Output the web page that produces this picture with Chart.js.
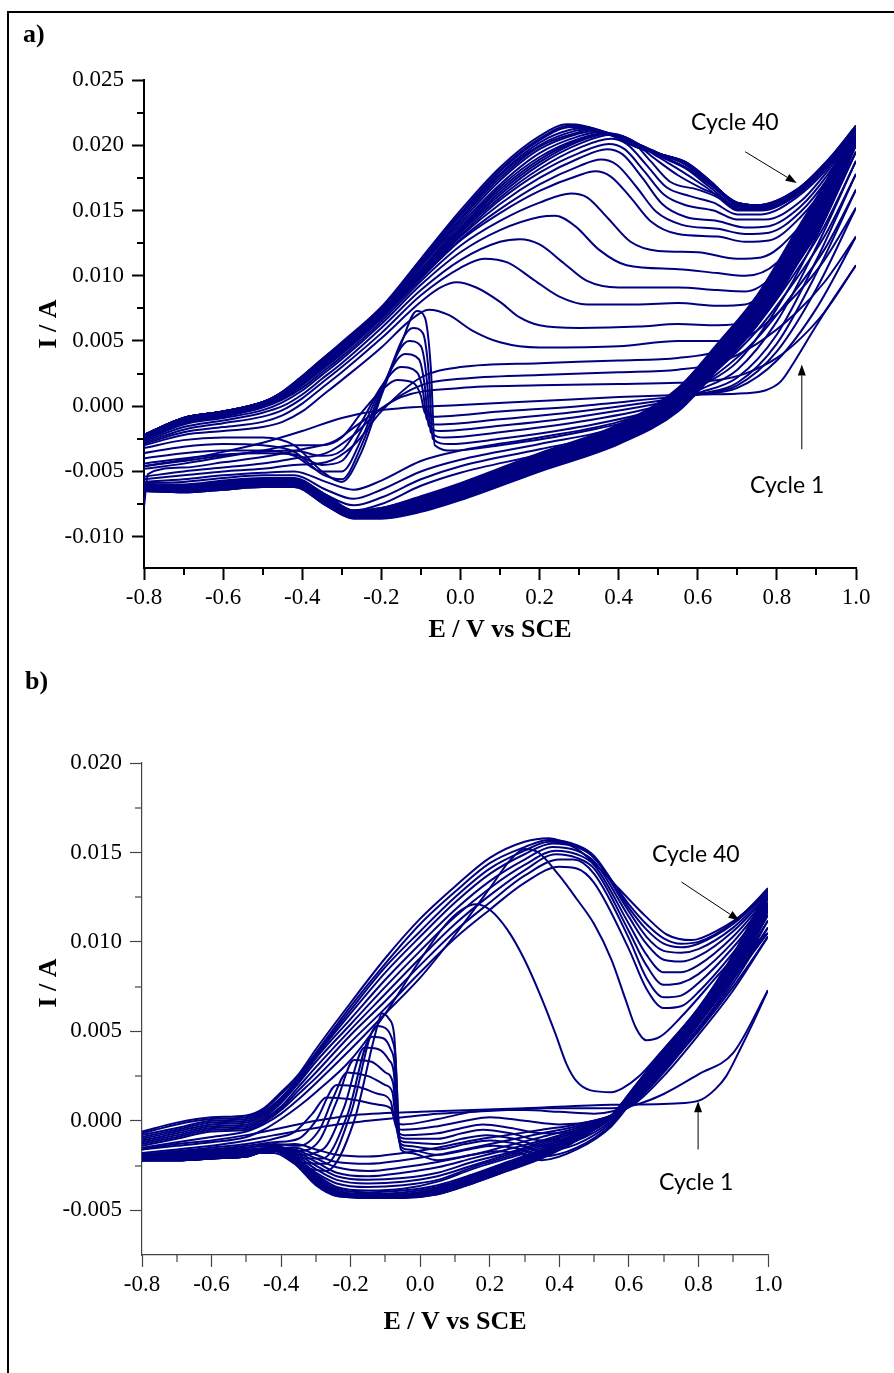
<!DOCTYPE html>
<html><head><meta charset="utf-8">
<script src="https://cdn.jsdelivr.net/npm/chart.js@4/dist/chart.umd.min.js"></script>
<style>
html,body{margin:0;padding:0;background:#fff;}
#page{position:relative;width:894px;height:1373px;overflow:hidden;background:#fff;}
canvas{position:absolute;left:0;}
#frame{position:absolute;left:7px;top:11px;width:920px;height:1400px;border-left:2px solid #000;border-top:2px solid #000;}
.lbl{position:absolute;font-family:'Liberation Serif','Times New Roman',serif;font-weight:bold;font-size:26px;line-height:26px;color:#000;white-space:nowrap;}
.note{position:absolute;font-family:Lato,'Open Sans',sans-serif;font-size:23px;line-height:23px;color:#000;white-space:nowrap;}
</style></head>
<body><div id="page">
<div id="frame"></div>
<canvas id="ca" width="894" height="660" style="top:0;width:894px;height:660px"></canvas>
<canvas id="cb" width="894" height="713" style="top:660px;width:894px;height:713px"></canvas>
<div class="lbl" style="left:23px;top:21px">a)</div>
<div class="lbl" style="left:25px;top:668px">b)</div>
<div class="note" style="left:691px;top:110px">Cycle 40</div>
<div class="note" style="left:750px;top:473px">Cycle 1</div>
<div class="note" style="left:652px;top:842px">Cycle 40</div>
<div class="note" style="left:659px;top:1170px">Cycle 1</div>
</div>
<script>
// ===================== PANEL a : data (E / V vs SCE, I / A) =====================
const aXTicksMinor = [-0.7,-0.5,-0.3,-0.1,0.1,0.3,0.5,0.7,0.9];
const aYTicksMinor = [-0.0075,-0.0025,0.0025,0.0075,0.0125,0.0175,0.0225];

// forward scans (E increasing)
const a_c01_fwd = [[-0.8,-0.0046],[-0.7,-0.0041],[-0.6,-0.0035],[-0.5,-0.0028],[-0.4,-0.0019],[-0.3,-0.0009],[-0.2,-0.0003],[0.0,0.0001],[0.2,0.0004],[0.4,0.0007],[0.6,0.0009],[0.72,0.0010],[0.77,0.0012],[0.81,0.0019],[0.85,0.0037],[0.89,0.0057],[0.94,0.0081],[1.0,0.0108]];
const a_c02_fwd = [[-0.8,-0.0048],[-0.7,-0.0044],[-0.6,-0.0039],[-0.5,-0.0034],[-0.42,-0.0030],[-0.35,-0.0030],[-0.3,-0.0024],[-0.25,-0.0005],[-0.2,0.0012],[-0.16,0.0020],[-0.12,0.0018],[-0.10,0.0008],[-0.09,-0.0005],[-0.07,-0.0008],[0.1,-0.0004],[0.3,0.0000],[0.5,0.0006],[0.6,0.0009],[0.7,0.0014],[0.8,0.0035],[0.9,0.0075],[1.0,0.0130]];
const a_c03_fwd = [[-0.8,-0.0046],[-0.7,-0.0042],[-0.6,-0.0038],[-0.5,-0.0035],[-0.42,-0.0034],[-0.35,-0.0038],[-0.3,-0.0034],[-0.25,-0.0012],[-0.2,0.0015],[-0.15,0.0030],[-0.11,0.0026],[-0.095,0.0012],[-0.085,-0.0010],[-0.06,-0.0014],[0.1,-0.0010],[0.3,-0.0004],[0.5,0.0004],[0.6,0.0009],[0.7,0.0016],[0.8,0.0042],[0.9,0.0090],[1.0,0.0152]];
const a_c04_fwd = [[-0.8,-0.0044],[-0.7,-0.0040],[-0.6,-0.0037],[-0.5,-0.0036],[-0.42,-0.0037],[-0.35,-0.0045],[-0.3,-0.0042],[-0.25,-0.0018],[-0.2,0.0014],[-0.14,0.0040],[-0.105,0.0036],[-0.09,0.0015],[-0.08,-0.0015],[-0.05,-0.0019],[0.1,-0.0015],[0.3,-0.0008],[0.5,0.0002],[0.6,0.0009],[0.7,0.0018],[0.8,0.0048],[0.9,0.0102],[1.0,0.0166]];
const a_c05_fwd = [[-0.8,-0.0040],[-0.7,-0.0036],[-0.6,-0.0034],[-0.5,-0.0034],[-0.42,-0.0038],[-0.35,-0.0050],[-0.3,-0.0050],[-0.25,-0.0025],[-0.2,0.0012],[-0.13,0.0050],[-0.1,0.0046],[-0.085,0.0020],[-0.075,-0.0020],[-0.04,-0.0024],[0.1,-0.0020],[0.3,-0.0012],[0.5,0.0000],[0.6,0.0010],[0.7,0.0022],[0.8,0.0055],[0.9,0.0112],[1.0,0.0178]];
const a_c06_fwd = [[-0.8,-0.0036],[-0.7,-0.0031],[-0.6,-0.0029],[-0.5,-0.0030],[-0.42,-0.0035],[-0.35,-0.0052],[-0.3,-0.0056],[-0.25,-0.0030],[-0.2,0.0010],[-0.12,0.0060],[-0.095,0.0056],[-0.08,0.0025],[-0.07,-0.0025],[-0.03,-0.0029],[0.1,-0.0025],[0.3,-0.0016],[0.5,-0.0002],[0.6,0.0012],[0.7,0.0028],[0.8,0.0065],[0.9,0.0122],[1.0,0.0188]];
const a_c07_fwd = [[-0.8,-0.0032],[-0.7,-0.0026],[-0.6,-0.0024],[-0.5,-0.0024],[-0.42,-0.0030],[-0.35,-0.0050],[-0.3,-0.0058],[-0.25,-0.0035],[-0.2,0.0008],[-0.15,0.0048],[-0.11,0.0073],[-0.09,0.0068],[-0.075,0.0030],[-0.065,-0.0030],[-0.02,-0.0034],[0.1,-0.0030],[0.3,-0.0020],[0.5,-0.0004],[0.6,0.0014],[0.7,0.0034],[0.8,0.0075],[0.9,0.0130],[1.0,0.0195]];
const a_c08_fwd = [[-0.8,-0.0030],[-0.7,-0.0022],[-0.6,-0.0019],[-0.5,-0.0016],[-0.45,-0.0012],[-0.4,-0.0004],[-0.35,0.0008],[-0.3,0.0020],[-0.2,0.0045],[-0.13,0.0065],[-0.08,0.0074],[-0.03,0.0070],[0.03,0.0058],[0.1,0.0049],[0.2,0.0045],[0.4,0.0046],[0.55,0.0050],[0.65,0.0050],[0.72,0.0055],[0.8,0.0083],[0.9,0.0138],[1.0,0.0200]];
const a_c09_fwd = [[-0.8,-0.0029],[-0.7,-0.0020],[-0.6,-0.0016],[-0.5,-0.0012],[-0.45,-0.0007],[-0.4,0.0002],[-0.35,0.0014],[-0.3,0.0026],[-0.2,0.0052],[-0.1,0.0080],[-0.05,0.0091],[-0.01,0.0095],[0.04,0.0091],[0.1,0.0080],[0.15,0.0068],[0.2,0.0062],[0.3,0.0060],[0.45,0.0061],[0.55,0.0063],[0.65,0.0062],[0.72,0.0065],[0.8,0.0088],[0.9,0.0140],[1.0,0.0203]];
const a_c10_fwd = [[-0.8,-0.0028],[-0.7,-0.0018],[-0.6,-0.0013],[-0.5,-0.0008],[-0.45,-0.0003],[-0.4,0.0006],[-0.35,0.0018],[-0.3,0.0030],[-0.2,0.0056],[-0.1,0.0085],[0.0,0.0106],[0.06,0.0113],[0.12,0.0110],[0.18,0.0098],[0.25,0.0084],[0.32,0.0078],[0.45,0.0078],[0.55,0.0079],[0.65,0.0077],[0.72,0.0078],[0.8,0.0097],[0.9,0.0146],[1.0,0.0205]];
const a_c11_fwd = [[-0.8,-0.0027],[-0.7,-0.0016],[-0.6,-0.0011],[-0.5,-0.0005],[-0.45,0.0000],[-0.4,0.0009],[-0.35,0.0021],[-0.3,0.0033],[-0.2,0.0060],[-0.1,0.0089],[0.0,0.0112],[0.1,0.0126],[0.15,0.0128],[0.2,0.0124],[0.26,0.0110],[0.32,0.0096],[0.4,0.0091],[0.55,0.0091],[0.65,0.0089],[0.72,0.0088],[0.8,0.0103],[0.9,0.0150],[1.0,0.0207]];
const a_c12_fwd = [[-0.8,-0.0026],[-0.7,-0.0014],[-0.6,-0.0009],[-0.5,-0.0003],[-0.45,0.0003],[-0.4,0.0012],[-0.35,0.0024],[-0.3,0.0036],[-0.2,0.0063],[-0.1,0.0093],[0.0,0.0118],[0.1,0.0135],[0.2,0.0145],[0.24,0.0146],[0.29,0.0138],[0.35,0.0120],[0.42,0.0108],[0.55,0.0105],[0.65,0.0102],[0.72,0.0100],[0.8,0.0110],[0.9,0.0154],[1.0,0.0208]];
const a_c13_fwd = [[-0.8,-0.0025],[-0.7,-0.0013],[-0.6,-0.0008],[-0.5,-0.0001],[-0.45,0.0005],[-0.4,0.0014],[-0.35,0.0026],[-0.3,0.0038],[-0.2,0.0065],[-0.1,0.0096],[0.0,0.0123],[0.1,0.0142],[0.2,0.0156],[0.28,0.0163],[0.32,0.0160],[0.37,0.0145],[0.43,0.0126],[0.5,0.0119],[0.6,0.0118],[0.7,0.0113],[0.76,0.0114],[0.85,0.0135],[0.92,0.0165],[1.0,0.0209]];
const a_c14_fwd = [[-0.8,-0.0024],[-0.7,-0.0012],[-0.6,-0.0007],[-0.5,0.0000],[-0.45,0.0006],[-0.4,0.0016],[-0.35,0.0028],[-0.3,0.0040],[-0.2,0.0067],[-0.1,0.0098],[0.0,0.0127],[0.1,0.0148],[0.2,0.0165],[0.3,0.0177],[0.34,0.0180],[0.38,0.0176],[0.43,0.0160],[0.48,0.0142],[0.55,0.0132],[0.65,0.0130],[0.72,0.0126],[0.78,0.0127],[0.86,0.0145],[0.93,0.0172],[1.0,0.0210]];
const a_c15_fwd = [[-0.8,-0.0024],[-0.7,-0.0012],[-0.6,-0.0007],[-0.5,0.0000],[-0.45,0.0006],[-0.4,0.0017],[-0.35,0.0029],[-0.3,0.0041],[-0.2,0.0068],[-0.1,0.0099],[0.0,0.0128],[0.1,0.0151],[0.2,0.0170],[0.3,0.0184],[0.355,0.0189],[0.395,0.0185],[0.445,0.0168],[0.495,0.0149],[0.56,0.0139],[0.65,0.0136],[0.72,0.0132],[0.78,0.0133],[0.86,0.0149],[0.93,0.0175],[1.0,0.0210]];
const a_c16_fwd = [[-0.8,-0.0023],[-0.7,-0.0011],[-0.6,-0.0006],[-0.5,0.0001],[-0.45,0.0007],[-0.4,0.0018],[-0.35,0.0030],[-0.3,0.0042],[-0.2,0.0069],[-0.1,0.0100],[0.0,0.0130],[0.1,0.0155],[0.2,0.0175],[0.3,0.0190],[0.37,0.0197],[0.41,0.0193],[0.46,0.0175],[0.51,0.0155],[0.57,0.0145],[0.65,0.0142],[0.72,0.0137],[0.78,0.0138],[0.86,0.0153],[0.93,0.0178],[1.0,0.0211]];
const a_c17_fwd = [[-0.8,-0.0023],[-0.7,-0.0011],[-0.6,-0.0006],[-0.5,0.0001],[-0.45,0.0007],[-0.4,0.0018],[-0.35,0.0030],[-0.3,0.0042],[-0.2,0.0069],[-0.1,0.0101],[0.0,0.0131],[0.1,0.0158],[0.2,0.0179],[0.3,0.0194],[0.375,0.0201],[0.415,0.0197],[0.465,0.0180],[0.515,0.0162],[0.57,0.0154],[0.64,0.0150],[0.7,0.0143],[0.77,0.0143],[0.86,0.0157],[0.93,0.0181],[1.0,0.0211]];
const a_c18_fwd = [[-0.8,-0.0023],[-0.7,-0.0010],[-0.6,-0.0005],[-0.5,0.0001],[-0.45,0.0008],[-0.4,0.0019],[-0.35,0.0031],[-0.3,0.0043],[-0.2,0.0070],[-0.1,0.0101],[0.0,0.0133],[0.1,0.0160],[0.2,0.0182],[0.3,0.0198],[0.38,0.0205],[0.42,0.0201],[0.47,0.0185],[0.52,0.0168],[0.58,0.0161],[0.64,0.0156],[0.7,0.0147],[0.76,0.0147],[0.85,0.0160],[0.93,0.0183],[1.0,0.0212]];
const a_c19_fwd = [[-0.8,-0.0023],[-0.7,-0.0010],[-0.6,-0.0005],[-0.5,0.0002],[-0.45,0.0008],[-0.4,0.0019],[-0.35,0.0031],[-0.3,0.0043],[-0.2,0.0070],[-0.1,0.0102],[0.0,0.0134],[0.1,0.0162],[0.2,0.0185],[0.3,0.0201],[0.38,0.0208],[0.43,0.0204],[0.48,0.0188],[0.53,0.0172],[0.6,0.0166],[0.65,0.0160],[0.7,0.0150],[0.76,0.0150],[0.85,0.0162],[0.93,0.0185],[1.0,0.0212]];
const a_c20_fwd = [[-0.8,-0.0023],[-0.7,-0.0010],[-0.6,-0.0005],[-0.5,0.0002],[-0.45,0.0008],[-0.4,0.0019],[-0.35,0.0032],[-0.3,0.0044],[-0.2,0.0070],[-0.1,0.0103],[0.0,0.0135],[0.1,0.0164],[0.2,0.0187],[0.3,0.0203],[0.375,0.0209],[0.425,0.0205],[0.49,0.0190],[0.55,0.0177],[0.61,0.0167],[0.66,0.0160],[0.7,0.0151],[0.76,0.0151],[0.85,0.0162],[0.93,0.0185],[1.0,0.0212]];
const a_c21_fwd = [[-0.8,-0.0023],[-0.7,-0.0010],[-0.6,-0.0005],[-0.5,0.0002],[-0.45,0.0009],[-0.4,0.0020],[-0.35,0.0032],[-0.3,0.0044],[-0.2,0.0071],[-0.1,0.0103],[0.0,0.0136],[0.1,0.0166],[0.2,0.0189],[0.3,0.0204],[0.37,0.0209],[0.425,0.0205],[0.5,0.0191],[0.56,0.0180],[0.62,0.0168],[0.7,0.0152],[0.76,0.0151],[0.85,0.0162],[0.93,0.0186],[1.0,0.0213]];
const a_c22_fwd = [[-0.8,-0.0023],[-0.7,-0.0010],[-0.6,-0.0005],[-0.5,0.0002],[-0.45,0.0009],[-0.4,0.0020],[-0.35,0.0033],[-0.3,0.0045],[-0.2,0.0071],[-0.1,0.0104],[0.0,0.0137],[0.1,0.0168],[0.2,0.0191],[0.3,0.0205],[0.36,0.0209],[0.42,0.0205],[0.5,0.0192],[0.57,0.0182],[0.63,0.0168],[0.7,0.0153],[0.76,0.0152],[0.85,0.0163],[0.93,0.0186],[1.0,0.0213]];
const a_c24_fwd = [[-0.8,-0.0022],[-0.7,-0.0009],[-0.6,-0.0004],[-0.5,0.0003],[-0.45,0.0010],[-0.4,0.0021],[-0.35,0.0033],[-0.3,0.0045],[-0.2,0.0072],[-0.1,0.0105],[0.0,0.0139],[0.1,0.0170],[0.2,0.0194],[0.3,0.0207],[0.35,0.0210],[0.41,0.0206],[0.5,0.0193],[0.57,0.0183],[0.63,0.0170],[0.7,0.0154],[0.76,0.0152],[0.85,0.0163],[0.93,0.0186],[1.0,0.0213]];
const a_c26_fwd = [[-0.8,-0.0022],[-0.7,-0.0009],[-0.6,-0.0004],[-0.5,0.0003],[-0.45,0.0010],[-0.4,0.0021],[-0.35,0.0034],[-0.3,0.0046],[-0.2,0.0073],[-0.1,0.0107],[0.0,0.0141],[0.1,0.0173],[0.2,0.0197],[0.3,0.0209],[0.34,0.0211],[0.4,0.0207],[0.5,0.0194],[0.57,0.0185],[0.63,0.0171],[0.7,0.0155],[0.76,0.0153],[0.85,0.0164],[0.93,0.0187],[1.0,0.0213]];
const a_c28_fwd = [[-0.8,-0.0022],[-0.7,-0.0009],[-0.6,-0.0004],[-0.5,0.0003],[-0.45,0.0010],[-0.4,0.0021],[-0.35,0.0034],[-0.3,0.0046],[-0.2,0.0073],[-0.1,0.0108],[0.0,0.0143],[0.1,0.0175],[0.2,0.0199],[0.3,0.0210],[0.33,0.0212],[0.4,0.0207],[0.5,0.0194],[0.57,0.0185],[0.63,0.0171],[0.7,0.0155],[0.76,0.0153],[0.85,0.0164],[0.93,0.0187],[1.0,0.0214]];
const a_c30_fwd = [[-0.8,-0.0022],[-0.7,-0.0009],[-0.6,-0.0004],[-0.5,0.0003],[-0.45,0.0010],[-0.4,0.0022],[-0.35,0.0035],[-0.3,0.0047],[-0.2,0.0074],[-0.1,0.0109],[0.0,0.0144],[0.1,0.0177],[0.2,0.0200],[0.29,0.0211],[0.325,0.0212],[0.4,0.0206],[0.5,0.0194],[0.57,0.0186],[0.63,0.0172],[0.7,0.0156],[0.76,0.0154],[0.85,0.0165],[0.93,0.0188],[1.0,0.0214]];
const a_c32_fwd = [[-0.8,-0.0022],[-0.7,-0.0009],[-0.6,-0.0004],[-0.5,0.0003],[-0.45,0.0010],[-0.4,0.0022],[-0.35,0.0035],[-0.3,0.0047],[-0.2,0.0074],[-0.1,0.0110],[0.0,0.0146],[0.1,0.0178],[0.2,0.0202],[0.28,0.0212],[0.32,0.0213],[0.4,0.0206],[0.5,0.0194],[0.57,0.0186],[0.63,0.0172],[0.7,0.0156],[0.76,0.0154],[0.85,0.0165],[0.93,0.0188],[1.0,0.0214]];
const a_c35_fwd = [[-0.8,-0.0022],[-0.7,-0.0009],[-0.6,-0.0004],[-0.5,0.0003],[-0.45,0.0011],[-0.4,0.0023],[-0.35,0.0036],[-0.3,0.0048],[-0.2,0.0075],[-0.1,0.0111],[0.0,0.0147],[0.1,0.0180],[0.2,0.0204],[0.28,0.0214],[0.315,0.0214],[0.39,0.0207],[0.46,0.0197],[0.52,0.0191],[0.57,0.0186],[0.63,0.0172],[0.69,0.0157],[0.75,0.0154],[0.85,0.0165],[0.93,0.0188],[1.0,0.0214]];
const a_c37_fwd = [[-0.8,-0.0022],[-0.7,-0.0009],[-0.6,-0.0004],[-0.5,0.0003],[-0.45,0.0011],[-0.4,0.0023],[-0.35,0.0036],[-0.3,0.0048],[-0.2,0.0075],[-0.1,0.0112],[0.0,0.0148],[0.1,0.0181],[0.2,0.0205],[0.275,0.0215],[0.31,0.0214],[0.385,0.0207],[0.45,0.0198],[0.52,0.0192],[0.57,0.0187],[0.63,0.0173],[0.69,0.0157],[0.75,0.0154],[0.85,0.0166],[0.93,0.0189],[1.0,0.0215]];
const a_c40_fwd = [[-0.8,-0.0022],[-0.7,-0.0009],[-0.6,-0.0004],[-0.5,0.0003],[-0.45,0.0011],[-0.4,0.0023],[-0.35,0.0036],[-0.3,0.0049],[-0.2,0.0076],[-0.1,0.0113],[0.0,0.0150],[0.1,0.0183],[0.2,0.0207],[0.27,0.0216],[0.31,0.0215],[0.38,0.0208],[0.45,0.0198],[0.52,0.0192],[0.57,0.0187],[0.63,0.0173],[0.69,0.0157],[0.75,0.0154],[0.85,0.0166],[0.93,0.0189],[1.0,0.0215]];

// reverse scans (listed from -0.8 up to 1.0 on a shared potential grid)
const a_c01_rev = [[-0.8,-0.0077],[-0.79,-0.0052],[-0.7,-0.0047],[-0.6,-0.0043],[-0.5,-0.0039],[-0.4,-0.0033],[-0.32,-0.0027],[-0.25,-0.0012],[-0.15,0.0007],[0.0,0.0014],[0.2,0.0016],[0.4,0.0017],[0.55,0.0018],[0.65,0.0020],[0.72,0.0025],[0.8,0.0037],[0.86,0.0052],[0.92,0.0072],[1.0,0.0108]];
const aRevE   = [-0.8,-0.7,-0.6,-0.5,-0.42,-0.34,-0.27,-0.2,-0.1,0.0,0.2,0.4,0.55,0.65,0.75,0.85,0.92,1.0];
const a_c02_rev = [-0.0054,-0.0050,-0.0047,-0.0044,-0.0040,-0.0036,-0.0022,-0.0002,0.0016,0.0021,0.0024,0.0026,0.0028,0.0033,0.0048,0.0072,0.0095,0.0130];
const a_c03_rev = [-0.0056,-0.0053,-0.0050,-0.0048,-0.0045,-0.0043,-0.0030,-0.0004,0.0022,0.0030,0.0033,0.0035,0.0037,0.0042,0.0058,0.0086,0.0112,0.0152];
const a_c04_rev = [-0.0058,-0.0056,-0.0053,-0.0051,-0.0050,-0.0058,-0.0064,-0.0057,-0.0042,-0.0034,-0.0024,-0.0012,0.0005,0.0025,0.0052,0.0090,0.0120,0.0166];
const a_c05_rev = [-0.0059,-0.0058,-0.0055,-0.0053,-0.0053,-0.0064,-0.0071,-0.0064,-0.0050,-0.0041,-0.0029,-0.0016,0.0004,0.0028,0.0058,0.0098,0.0130,0.0178];
const a_c06_rev = [-0.0060,-0.0060,-0.0057,-0.0055,-0.0055,-0.0068,-0.0076,-0.0070,-0.0056,-0.0046,-0.0033,-0.0019,0.0004,0.0030,0.0062,0.0104,0.0138,0.0188];
const a_c07_rev = [-0.0061,-0.0062,-0.0058,-0.0057,-0.0057,-0.0071,-0.0080,-0.0075,-0.0061,-0.0051,-0.0037,-0.0021,0.0004,0.0032,0.0065,0.0110,0.0145,0.0195];
const a_c08_rev = [-0.0065,-0.0066,-0.0064,-0.0062,-0.0062,-0.0076,-0.0086,-0.0086,-0.0081,-0.0072,-0.0050,-0.0029,-0.0004,0.0028,0.0062,0.0108,0.0143,0.0200];
const a_c09_rev = [-0.0065,-0.0066,-0.0064,-0.0062,-0.0062,-0.0076,-0.0086,-0.0086,-0.0080,-0.0071,-0.0049,-0.0028,-0.0003,0.0029,0.0063,0.0109,0.0144,0.0203];
const a_c10_rev = [-0.0065,-0.0066,-0.0063,-0.0061,-0.0061,-0.0075,-0.0085,-0.0085,-0.0080,-0.0071,-0.0049,-0.0028,-0.0002,0.0030,0.0064,0.0110,0.0145,0.0205];
const a_c11_rev = [-0.0064,-0.0065,-0.0063,-0.0061,-0.0061,-0.0075,-0.0085,-0.0085,-0.0079,-0.0070,-0.0048,-0.0027,-0.0002,0.0031,0.0065,0.0112,0.0147,0.0207];
const a_c12_rev = [-0.0064,-0.0065,-0.0063,-0.0061,-0.0061,-0.0074,-0.0085,-0.0084,-0.0079,-0.0070,-0.0047,-0.0026,-0.0001,0.0032,0.0066,0.0113,0.0148,0.0208];
const a_c13_rev = [-0.0064,-0.0065,-0.0062,-0.0060,-0.0060,-0.0074,-0.0084,-0.0084,-0.0078,-0.0069,-0.0047,-0.0026,0.0000,0.0033,0.0067,0.0114,0.0149,0.0209];
const a_c14_rev = [-0.0064,-0.0065,-0.0062,-0.0060,-0.0060,-0.0074,-0.0084,-0.0084,-0.0078,-0.0069,-0.0046,-0.0025,0.0001,0.0033,0.0068,0.0115,0.0150,0.0210];
const a_c15_rev = [-0.0063,-0.0064,-0.0062,-0.0060,-0.0060,-0.0073,-0.0084,-0.0083,-0.0077,-0.0068,-0.0046,-0.0024,0.0002,0.0034,0.0069,0.0117,0.0152,0.0210];
const a_c16_rev = [-0.0063,-0.0064,-0.0062,-0.0060,-0.0060,-0.0073,-0.0084,-0.0083,-0.0077,-0.0068,-0.0045,-0.0024,0.0003,0.0035,0.0070,0.0118,0.0153,0.0211];
const a_c17_rev = [-0.0063,-0.0064,-0.0061,-0.0059,-0.0059,-0.0073,-0.0083,-0.0083,-0.0076,-0.0067,-0.0044,-0.0023,0.0003,0.0036,0.0071,0.0119,0.0154,0.0211];
const a_c18_rev = [-0.0063,-0.0064,-0.0061,-0.0059,-0.0059,-0.0072,-0.0083,-0.0082,-0.0076,-0.0066,-0.0044,-0.0022,0.0004,0.0037,0.0072,0.0120,0.0155,0.0212];
const a_c19_rev = [-0.0062,-0.0063,-0.0061,-0.0059,-0.0059,-0.0072,-0.0083,-0.0082,-0.0075,-0.0066,-0.0043,-0.0022,0.0005,0.0038,0.0073,0.0122,0.0157,0.0212];
const a_c20_rev = [-0.0062,-0.0063,-0.0061,-0.0059,-0.0059,-0.0072,-0.0083,-0.0082,-0.0075,-0.0065,-0.0042,-0.0021,0.0006,0.0039,0.0075,0.0123,0.0158,0.0212];
const a_c21_rev = [-0.0062,-0.0063,-0.0060,-0.0058,-0.0058,-0.0071,-0.0082,-0.0081,-0.0074,-0.0065,-0.0042,-0.0020,0.0007,0.0040,0.0076,0.0124,0.0159,0.0213];
const a_c22_rev = [-0.0062,-0.0063,-0.0060,-0.0058,-0.0058,-0.0071,-0.0082,-0.0081,-0.0074,-0.0064,-0.0041,-0.0020,0.0007,0.0041,0.0077,0.0125,0.0160,0.0213];
const a_c24_rev = [-0.0061,-0.0062,-0.0060,-0.0058,-0.0058,-0.0071,-0.0082,-0.0081,-0.0073,-0.0064,-0.0040,-0.0019,0.0008,0.0042,0.0078,0.0127,0.0162,0.0213];
const a_c26_rev = [-0.0061,-0.0062,-0.0060,-0.0058,-0.0058,-0.0070,-0.0082,-0.0080,-0.0073,-0.0063,-0.0040,-0.0018,0.0009,0.0043,0.0079,0.0128,0.0163,0.0213];
const a_c28_rev = [-0.0061,-0.0062,-0.0059,-0.0057,-0.0057,-0.0070,-0.0081,-0.0080,-0.0072,-0.0062,-0.0039,-0.0018,0.0010,0.0043,0.0080,0.0129,0.0164,0.0214];
const a_c30_rev = [-0.0061,-0.0062,-0.0059,-0.0057,-0.0057,-0.0070,-0.0081,-0.0080,-0.0072,-0.0062,-0.0039,-0.0017,0.0011,0.0044,0.0081,0.0130,0.0165,0.0214];
const a_c32_rev = [-0.0060,-0.0061,-0.0059,-0.0057,-0.0057,-0.0069,-0.0081,-0.0079,-0.0071,-0.0061,-0.0038,-0.0016,0.0011,0.0045,0.0082,0.0132,0.0167,0.0214];
const a_c35_rev = [-0.0060,-0.0061,-0.0059,-0.0057,-0.0057,-0.0069,-0.0081,-0.0079,-0.0071,-0.0061,-0.0037,-0.0016,0.0012,0.0046,0.0083,0.0133,0.0168,0.0214];
const a_c37_rev = [-0.0060,-0.0061,-0.0058,-0.0056,-0.0056,-0.0068,-0.0080,-0.0078,-0.0070,-0.0060,-0.0037,-0.0015,0.0013,0.0047,0.0084,0.0134,0.0169,0.0215];
const a_c40_rev = [-0.0060,-0.0061,-0.0058,-0.0056,-0.0056,-0.0068,-0.0080,-0.0078,-0.0069,-0.0059,-0.0036,-0.0014,0.0014,0.0048,0.0085,0.0135,0.0170,0.0215];

// ===================== PANEL b : data =====================
const bXTicksMinor = [-0.7,-0.5,-0.3,-0.1,0.1,0.3,0.5,0.7,0.9];
const bYTicksMinor = [-0.0025,0.0025,0.0075,0.0125,0.0175];

const b_c01_fwd = [[-0.8,-0.0016],[-0.7,-0.0013],[-0.6,-0.0011],[-0.5,-0.0008],[-0.4,-0.0004],[-0.3,0.0000],[-0.2,0.0003],[0.0,0.0005],[0.3,0.0007],[0.55,0.0009],[0.76,0.0010],[0.81,0.0012],[0.85,0.0018],[0.88,0.0025],[0.92,0.0040],[0.96,0.0056],[1.0,0.0073]];
const b_c02_fwd = [[-0.8,-0.0019],[-0.7,-0.0017],[-0.6,-0.0015],[-0.5,-0.0013],[-0.42,-0.0010],[-0.36,-0.0006],[-0.31,0.0004],[-0.27,0.0013],[-0.2,0.0012],[-0.12,0.0009],[-0.085,0.0007],[-0.07,-0.0001],[-0.05,-0.0002],[0.05,0.0001],[0.15,0.0005],[0.22,0.0006],[0.3,0.0006],[0.4,0.0005],[0.5,0.0004],[0.6,0.0009],[0.7,0.0028],[0.8,0.0050],[0.9,0.0075],[1.0,0.0103]];
const b_c03_fwd = [[-0.8,-0.0019],[-0.7,-0.0017],[-0.6,-0.0016],[-0.5,-0.0014],[-0.42,-0.0012],[-0.35,-0.0010],[-0.3,0.0000],[-0.24,0.0020],[-0.18,0.0019],[-0.12,0.0015],[-0.085,0.0011],[-0.07,-0.0003],[-0.05,-0.0005],[0.05,-0.0003],[0.13,0.0000],[0.2,0.0002],[0.3,0.0000],[0.4,-0.0002],[0.5,0.0000],[0.6,0.0008],[0.7,0.0030],[0.8,0.0054],[0.9,0.0080],[1.0,0.0108]];
const b_c04_fwd = [[-0.8,-0.0019],[-0.7,-0.0018],[-0.6,-0.0016],[-0.5,-0.0015],[-0.42,-0.0013],[-0.35,-0.0014],[-0.29,-0.0005],[-0.25,0.0013],[-0.21,0.0027],[-0.15,0.0025],[-0.1,0.0020],[-0.08,0.0016],[-0.066,-0.0006],[-0.045,-0.0008],[0.05,-0.0007],[0.12,-0.0004],[0.18,-0.0002],[0.26,-0.0004],[0.35,-0.0007],[0.45,-0.0006],[0.55,0.0002],[0.65,0.0018],[0.75,0.0040],[0.85,0.0065],[0.93,0.0088],[1.0,0.0112]];
const b_c05_fwd = [[-0.8,-0.0020],[-0.7,-0.0018],[-0.6,-0.0017],[-0.5,-0.0015],[-0.42,-0.0014],[-0.35,-0.0017],[-0.29,-0.0011],[-0.24,0.0011],[-0.19,0.0034],[-0.14,0.0033],[-0.1,0.0027],[-0.078,0.0021],[-0.064,-0.0008],[-0.04,-0.0010],[0.05,-0.0010],[0.12,-0.0007],[0.18,-0.0005],[0.26,-0.0007],[0.35,-0.0011],[0.45,-0.0009],[0.55,0.0001],[0.65,0.0019],[0.75,0.0042],[0.85,0.0068],[0.93,0.0091],[1.0,0.0115]];
const b_c06_fwd = [[-0.8,-0.0020],[-0.7,-0.0019],[-0.6,-0.0017],[-0.5,-0.0016],[-0.42,-0.0015],[-0.35,-0.0019],[-0.28,-0.0016],[-0.22,0.0007],[-0.16,0.0041],[-0.12,0.0040],[-0.09,0.0034],[-0.076,0.0027],[-0.062,-0.0010],[-0.04,-0.0012],[0.05,-0.0013],[0.12,-0.0010],[0.19,-0.0008],[0.27,-0.0010],[0.35,-0.0014],[0.45,-0.0011],[0.55,0.0000],[0.65,0.0020],[0.75,0.0043],[0.85,0.0070],[0.93,0.0093],[1.0,0.0117]];
const b_c07_fwd = [[-0.8,-0.0021],[-0.7,-0.0019],[-0.6,-0.0018],[-0.5,-0.0016],[-0.42,-0.0016],[-0.35,-0.0021],[-0.28,-0.0021],[-0.21,0.0003],[-0.14,0.0047],[-0.105,0.0046],[-0.085,0.0040],[-0.074,0.0032],[-0.06,-0.0012],[-0.04,-0.0014],[0.05,-0.0016],[0.13,-0.0013],[0.2,-0.0011],[0.28,-0.0013],[0.35,-0.0017],[0.45,-0.0013],[0.55,-0.0001],[0.65,0.0021],[0.75,0.0044],[0.85,0.0071],[0.93,0.0095],[1.0,0.0119]];
const b_c08_fwd = [[-0.8,-0.0021],[-0.7,-0.0020],[-0.6,-0.0018],[-0.5,-0.0017],[-0.42,-0.0017],[-0.35,-0.0023],[-0.27,-0.0024],[-0.2,0.0004],[-0.125,0.0053],[-0.095,0.0051],[-0.08,0.0045],[-0.072,0.0037],[-0.058,-0.0014],[-0.035,-0.0016],[0.05,-0.0019],[0.14,-0.0016],[0.21,-0.0014],[0.29,-0.0016],[0.35,-0.0020],[0.45,-0.0015],[0.55,-0.0002],[0.65,0.0022],[0.75,0.0045],[0.85,0.0072],[0.93,0.0096],[1.0,0.0120]];
const b_c09_fwd = [[-0.8,-0.0022],[-0.7,-0.0020],[-0.6,-0.0019],[-0.5,-0.0018],[-0.42,-0.0018],[-0.35,-0.0025],[-0.27,-0.0028],[-0.19,0.0000],[-0.13,0.0048],[-0.11,0.0060],[-0.09,0.0057],[-0.075,0.0048],[-0.056,-0.0016],[-0.03,-0.0018],[0.05,-0.0022],[0.15,-0.0019],[0.22,-0.0017],[0.3,-0.0019],[0.35,-0.0022],[0.45,-0.0016],[0.55,-0.0003],[0.65,0.0022],[0.75,0.0046],[0.85,0.0073],[0.93,0.0097],[1.0,0.0121]];
const b_c10_fwd = [[-0.8,-0.0016],[-0.7,-0.0014],[-0.6,-0.0012],[-0.5,-0.0009],[-0.45,-0.0005],[-0.4,0.0001],[-0.35,0.0008],[-0.3,0.0016],[-0.2,0.0034],[-0.1,0.0060],[0.0,0.0090],[0.07,0.0109],[0.12,0.0118],[0.16,0.0121],[0.2,0.0118],[0.25,0.0107],[0.3,0.0090],[0.35,0.0068],[0.39,0.0048],[0.42,0.0032],[0.45,0.0022],[0.49,0.0017],[0.55,0.0016],[0.58,0.0018],[0.63,0.0025],[0.7,0.0040],[0.8,0.0060],[0.9,0.0080],[1.0,0.0105]];
const b_c11_fwd = [[-0.8,-0.0015],[-0.7,-0.0012],[-0.6,-0.0009],[-0.5,-0.0006],[-0.45,-0.0002],[-0.4,0.0004],[-0.35,0.0012],[-0.3,0.0021],[-0.2,0.0040],[-0.1,0.0060],[0.0,0.0080],[0.1,0.0104],[0.2,0.0130],[0.26,0.0146],[0.3,0.0152],[0.34,0.0150],[0.4,0.0137],[0.45,0.0124],[0.5,0.0110],[0.55,0.0090],[0.59,0.0068],[0.62,0.0052],[0.65,0.0045],[0.69,0.0047],[0.75,0.0058],[0.85,0.0080],[0.93,0.0098],[1.0,0.0118]];
const b_c12_fwd = [[-0.8,-0.0014],[-0.7,-0.0010],[-0.6,-0.0006],[-0.5,-0.0005],[-0.45,-0.0001],[-0.4,0.0006],[-0.35,0.0015],[-0.3,0.0024],[-0.2,0.0044],[-0.1,0.0063],[0.0,0.0083],[0.1,0.0102],[0.2,0.0118],[0.3,0.0133],[0.4,0.0142],[0.45,0.0141],[0.5,0.0133],[0.6,0.0096],[0.65,0.0074],[0.7,0.0063],[0.75,0.0064],[0.8,0.0072],[0.9,0.0094],[1.0,0.0120]];
const b_c13_fwd = [[-0.8,-0.0013],[-0.7,-0.0009],[-0.6,-0.0005],[-0.5,-0.0004],[-0.45,0.0000],[-0.4,0.0007],[-0.35,0.0017],[-0.3,0.0027],[-0.2,0.0048],[-0.1,0.0067],[0.0,0.0087],[0.1,0.0106],[0.2,0.0122],[0.3,0.0137],[0.4,0.0146],[0.44,0.0146],[0.5,0.0138],[0.6,0.0102],[0.65,0.0080],[0.7,0.0069],[0.75,0.0070],[0.8,0.0077],[0.9,0.0097],[1.0,0.0122]];
const b_c14_fwd = [[-0.8,-0.0012],[-0.7,-0.0008],[-0.6,-0.0004],[-0.5,-0.0003],[-0.45,0.0001],[-0.4,0.0008],[-0.35,0.0019],[-0.3,0.0030],[-0.2,0.0051],[-0.1,0.0071],[0.0,0.0091],[0.1,0.0110],[0.2,0.0126],[0.3,0.0140],[0.39,0.0149],[0.45,0.0147],[0.5,0.0141],[0.6,0.0106],[0.65,0.0087],[0.7,0.0076],[0.75,0.0077],[0.8,0.0082],[0.9,0.0100],[1.0,0.0124]];
const b_c15_fwd = [[-0.8,-0.0011],[-0.7,-0.0007],[-0.6,-0.0003],[-0.5,-0.0002],[-0.45,0.0002],[-0.4,0.0010],[-0.35,0.0021],[-0.3,0.0033],[-0.2,0.0054],[-0.1,0.0075],[0.0,0.0095],[0.1,0.0114],[0.2,0.0130],[0.3,0.0143],[0.39,0.0151],[0.45,0.0149],[0.5,0.0143],[0.6,0.0110],[0.65,0.0093],[0.7,0.0083],[0.75,0.0083],[0.8,0.0087],[0.9,0.0103],[1.0,0.0125]];
const b_c17_fwd = [[-0.8,-0.0010],[-0.7,-0.0006],[-0.6,-0.0002],[-0.5,-0.0001],[-0.45,0.0003],[-0.4,0.0011],[-0.35,0.0022],[-0.3,0.0035],[-0.2,0.0057],[-0.1,0.0079],[0.0,0.0099],[0.1,0.0118],[0.2,0.0134],[0.3,0.0146],[0.38,0.0153],[0.45,0.0151],[0.5,0.0145],[0.6,0.0114],[0.65,0.0099],[0.7,0.0090],[0.75,0.0089],[0.8,0.0092],[0.9,0.0106],[1.0,0.0126]];
const b_c20_fwd = [[-0.8,-0.0009],[-0.7,-0.0005],[-0.6,-0.0001],[-0.5,0.0000],[-0.45,0.0004],[-0.4,0.0012],[-0.35,0.0023],[-0.3,0.0036],[-0.2,0.0060],[-0.1,0.0083],[0.0,0.0103],[0.1,0.0122],[0.2,0.0138],[0.3,0.0149],[0.38,0.0155],[0.45,0.0153],[0.5,0.0147],[0.6,0.0117],[0.65,0.0103],[0.7,0.0095],[0.75,0.0094],[0.8,0.0096],[0.9,0.0108],[1.0,0.0127]];
const b_c25_fwd = [[-0.8,-0.0008],[-0.7,-0.0004],[-0.6,0.0000],[-0.5,0.0001],[-0.45,0.0005],[-0.4,0.0013],[-0.35,0.0024],[-0.3,0.0037],[-0.2,0.0062],[-0.1,0.0086],[0.0,0.0106],[0.1,0.0125],[0.2,0.0141],[0.3,0.0151],[0.37,0.0156],[0.45,0.0154],[0.5,0.0148],[0.6,0.0119],[0.65,0.0107],[0.7,0.0099],[0.75,0.0097],[0.8,0.0099],[0.9,0.0110],[1.0,0.0128]];
const b_c31_fwd = [[-0.8,-0.0007],[-0.7,-0.0002],[-0.6,0.0001],[-0.5,0.0002],[-0.45,0.0006],[-0.4,0.0015],[-0.35,0.0025],[-0.3,0.0038],[-0.2,0.0064],[-0.1,0.0088],[0.0,0.0110],[0.1,0.0128],[0.2,0.0144],[0.3,0.0153],[0.37,0.0157],[0.45,0.0154],[0.5,0.0147],[0.6,0.0121],[0.65,0.0110],[0.7,0.0102],[0.75,0.0099],[0.8,0.0100],[0.9,0.0111],[1.0,0.0129]];
const b_c40_fwd = [[-0.8,-0.0006],[-0.7,-0.0001],[-0.6,0.0002],[-0.5,0.0003],[-0.45,0.0007],[-0.4,0.0016],[-0.35,0.0026],[-0.3,0.0040],[-0.2,0.0066],[-0.1,0.0091],[0.0,0.0113],[0.1,0.0131],[0.2,0.0147],[0.3,0.0156],[0.37,0.0158],[0.45,0.0152],[0.5,0.0144],[0.57,0.0130],[0.65,0.0114],[0.71,0.0104],[0.78,0.0101],[0.86,0.0107],[0.93,0.0116],[1.0,0.0130]];

const bRevE   = [-0.8,-0.7,-0.6,-0.5,-0.42,-0.36,-0.3,-0.24,-0.15,-0.05,0.05,0.15,0.25,0.35,0.45,0.55,0.62,0.7,0.8,0.9,1.0];
const b_c01_rev = [-0.0018,-0.0016,-0.0014,-0.0011,-0.0008,-0.0006,-0.0004,-0.0002,0.0000,0.0002,0.0004,0.0005,0.0006,0.0007,0.0007,0.0007,0.0009,0.0015,0.0026,0.0038,0.0073];
const b_c02_rev = [-0.0019,-0.0019,-0.0018,-0.0017,-0.0014,-0.0013,-0.0016,-0.0019,-0.0020,-0.0018,-0.0015,-0.0011,-0.0008,-0.0005,-0.0002,0.0003,0.0010,0.0025,0.0048,0.0073,0.0103];
const b_c03_rev = [-0.0020,-0.0019,-0.0018,-0.0017,-0.0015,-0.0015,-0.0019,-0.0023,-0.0024,-0.0022,-0.0019,-0.0015,-0.0011,-0.0007,-0.0003,0.0003,0.0011,0.0027,0.0051,0.0077,0.0108];
const b_c04_rev = [-0.0020,-0.0020,-0.0019,-0.0018,-0.0015,-0.0016,-0.0021,-0.0026,-0.0028,-0.0026,-0.0023,-0.0019,-0.0014,-0.0009,-0.0004,0.0003,0.0012,0.0029,0.0054,0.0081,0.0112];
const b_c05_rev = [-0.0021,-0.0020,-0.0019,-0.0018,-0.0015,-0.0017,-0.0023,-0.0029,-0.0031,-0.0029,-0.0026,-0.0021,-0.0016,-0.0011,-0.0005,0.0003,0.0013,0.0030,0.0056,0.0083,0.0115];
const b_c06_rev = [-0.0021,-0.0020,-0.0019,-0.0018,-0.0015,-0.0018,-0.0025,-0.0031,-0.0033,-0.0032,-0.0029,-0.0023,-0.0018,-0.0012,-0.0006,0.0003,0.0014,0.0031,0.0057,0.0085,0.0117];
const b_c07_rev = [-0.0021,-0.0021,-0.0020,-0.0019,-0.0015,-0.0019,-0.0027,-0.0033,-0.0035,-0.0034,-0.0031,-0.0025,-0.0019,-0.0013,-0.0006,0.0003,0.0015,0.0032,0.0058,0.0086,0.0119];
const b_c08_rev = [-0.0022,-0.0021,-0.0020,-0.0019,-0.0015,-0.0020,-0.0029,-0.0035,-0.0037,-0.0036,-0.0033,-0.0026,-0.0020,-0.0014,-0.0007,0.0003,0.0016,0.0033,0.0059,0.0087,0.0120];
const b_c09_rev = [-0.0022,-0.0021,-0.0020,-0.0019,-0.0015,-0.0021,-0.0030,-0.0037,-0.0039,-0.0038,-0.0034,-0.0027,-0.0021,-0.0015,-0.0007,0.0003,0.0016,0.0034,0.0059,0.0088,0.0121];
const b_c10_rev = [-0.0022,-0.0021,-0.0020,-0.0019,-0.0015,-0.0021,-0.0031,-0.0038,-0.0040,-0.0039,-0.0036,-0.0030,-0.0023,-0.0016,-0.0008,0.0002,0.0016,0.0034,0.0059,0.0088,0.0105];
const b_c11_rev = [-0.0022,-0.0021,-0.0020,-0.0019,-0.0015,-0.0021,-0.0032,-0.0039,-0.0041,-0.0040,-0.0037,-0.0031,-0.0024,-0.0017,-0.0008,0.0002,0.0017,0.0035,0.0060,0.0089,0.0118];
const b_c12_rev = [-0.0022,-0.0021,-0.0020,-0.0019,-0.0015,-0.0022,-0.0032,-0.0039,-0.0041,-0.0041,-0.0038,-0.0031,-0.0024,-0.0017,-0.0008,0.0002,0.0017,0.0036,0.0060,0.0090,0.0120];
const b_c13_rev = [-0.0022,-0.0022,-0.0021,-0.0019,-0.0015,-0.0022,-0.0033,-0.0040,-0.0042,-0.0041,-0.0038,-0.0032,-0.0025,-0.0018,-0.0009,0.0002,0.0018,0.0036,0.0061,0.0090,0.0122];
const b_c14_rev = [-0.0022,-0.0022,-0.0021,-0.0019,-0.0015,-0.0022,-0.0033,-0.0040,-0.0042,-0.0042,-0.0039,-0.0032,-0.0025,-0.0018,-0.0009,0.0002,0.0018,0.0037,0.0061,0.0091,0.0124];
const b_c15_rev = [-0.0022,-0.0022,-0.0021,-0.0019,-0.0015,-0.0023,-0.0034,-0.0040,-0.0042,-0.0042,-0.0039,-0.0033,-0.0026,-0.0018,-0.0009,0.0002,0.0018,0.0037,0.0061,0.0091,0.0125];
const b_c17_rev = [-0.0022,-0.0022,-0.0021,-0.0020,-0.0015,-0.0023,-0.0034,-0.0041,-0.0042,-0.0042,-0.0040,-0.0033,-0.0026,-0.0019,-0.0010,0.0002,0.0019,0.0038,0.0062,0.0091,0.0126];
const b_c20_rev = [-0.0022,-0.0022,-0.0021,-0.0020,-0.0015,-0.0023,-0.0035,-0.0041,-0.0042,-0.0043,-0.0040,-0.0034,-0.0027,-0.0019,-0.0010,0.0002,0.0019,0.0038,0.0062,0.0092,0.0127];
const b_c25_rev = [-0.0022,-0.0022,-0.0021,-0.0020,-0.0015,-0.0024,-0.0035,-0.0041,-0.0043,-0.0043,-0.0040,-0.0034,-0.0027,-0.0020,-0.0010,0.0003,0.0019,0.0039,0.0062,0.0092,0.0128];
const b_c31_rev = [-0.0022,-0.0022,-0.0021,-0.0020,-0.0016,-0.0024,-0.0035,-0.0042,-0.0043,-0.0043,-0.0041,-0.0035,-0.0028,-0.0020,-0.0011,0.0003,0.0020,0.0039,0.0063,0.0092,0.0129];
const b_c40_rev = [-0.0022,-0.0022,-0.0021,-0.0020,-0.0016,-0.0024,-0.0036,-0.0042,-0.0043,-0.0043,-0.0041,-0.0035,-0.0028,-0.0021,-0.0011,0.0003,0.0020,0.0040,0.0063,0.0093,0.0130];

// annotation arrows (data coordinates)
const aArrows = [{from:[0.720,0.0195],to:[0.850,0.0171]},{from:[0.863,-0.0033],to:[0.863,0.0032]}];
const bArrows = [{from:[0.751,0.01335],to:[0.918,0.0112]},{from:[0.799,-0.0016],to:[0.799,0.0011]}];

// ===================== rendering =====================
const NAVY = '#000080';
const SERIF = "'Liberation Serif','Times New Roman',serif";
const P = arr => arr.map(p => ({x: p[0], y: p[1]}));
const Z = (E, I) => E.map((e, k) => ({x: e, y: I[k]}));
function fmt(v, d) { let s = Number(v).toFixed(d); if (/^-0\.0+$/.test(s)) s = s.slice(1); return s; }

function decor(spec) {
  return {
    id: 'decor_' + spec.name,
    afterDraw(chart) {
      const {ctx, chartArea: ca, scales: {x, y}} = chart;
      ctx.save();
      ctx.strokeStyle = spec.axisColor; ctx.lineWidth = spec.axisWidth;
      spec.xMinor.forEach(v => { const px = Math.round(x.getPixelForValue(v)); ctx.beginPath(); ctx.moveTo(px, ca.bottom); ctx.lineTo(px, ca.bottom + 7); ctx.stroke(); });
      spec.yMinor.forEach(v => { const py = Math.round(y.getPixelForValue(v)); ctx.beginPath(); ctx.moveTo(ca.left, py); ctx.lineTo(ca.left - 7, py); ctx.stroke(); });
      ctx.strokeStyle = '#000'; ctx.fillStyle = '#000'; ctx.lineWidth = 1;
      spec.arrows.forEach(a => {
        const x0 = x.getPixelForValue(a.from[0]), y0 = y.getPixelForValue(a.from[1]);
        const x1 = x.getPixelForValue(a.to[0]), y1 = y.getPixelForValue(a.to[1]);
        const ang = Math.atan2(y1 - y0, x1 - x0), L = 11, W = 4;
        const bx = x1 - L * Math.cos(ang), by = y1 - L * Math.sin(ang);
        ctx.beginPath(); ctx.moveTo(x0, y0); ctx.lineTo(bx, by); ctx.stroke();
        ctx.beginPath(); ctx.moveTo(x1, y1);
        ctx.lineTo(bx + W * Math.sin(ang), by - W * Math.cos(ang));
        ctx.lineTo(bx - W * Math.sin(ang), by + W * Math.cos(ang));
        ctx.closePath(); ctx.fill();
      });
      ctx.restore();
    }
  };
}

function build(el, spec) {
  const datasets = spec.curves.map(d => ({
    data: d, borderColor: NAVY, borderWidth: 2, pointRadius: 0, pointHoverRadius: 0,
    fill: false, cubicInterpolationMode: 'monotone'
  }));
  const tickFont = {family: SERIF, size: 23, lineHeight: 1.2};
  const titleFont = {family: SERIF, size: 26, weight: 'bold', lineHeight: 1.2};
  return new Chart(el, {
    type: 'line',
    data: {datasets},
    options: {
      responsive: false, animation: false, devicePixelRatio: 1, events: [],
      layout: {padding: spec.padding},
      plugins: {legend: {display: false}, tooltip: {enabled: false}},
      scales: {
        x: {
          type: 'linear', min: -0.8, max: 1.0,
          afterFit: s => { s.height = spec.xH; },
          border: {display: true, color: spec.axisColor, width: spec.axisWidth},
          grid: {display: true, drawOnChartArea: false, drawTicks: true, tickLength: 12, tickColor: spec.axisColor, tickWidth: spec.axisWidth},
          ticks: {stepSize: 0.2, autoSkip: false, maxRotation: 0, padding: 4, color: '#000', font: tickFont, callback: v => fmt(v, 1)},
          title: {display: true, text: 'E / V vs SCE', color: '#000', font: titleFont, padding: {top: 0, bottom: spec.xTitlePad}}
        },
        y: {
          type: 'linear', min: spec.yMin, max: spec.yMax,
          afterFit: s => { s.width = spec.yW; },
          border: {display: true, color: spec.axisColor, width: spec.axisWidth},
          grid: {display: true, drawOnChartArea: false, drawTicks: true, tickLength: 12, tickColor: spec.axisColor, tickWidth: spec.axisWidth},
          ticks: {stepSize: 0.005, includeBounds: false, autoSkip: false, padding: 8, color: '#000', font: tickFont, callback: v => fmt(v, 3)},
          title: {display: true, text: spec.yTitle, color: '#000', font: titleFont, padding: {top: spec.yTitlePad, bottom: 0}}
        }
      }
    },
    plugins: [decor(spec)]
  });
}

const aCurves = [
  P(a_c01_fwd), P(a_c01_rev),
  P(a_c02_fwd), Z(aRevE, a_c02_rev), P(a_c03_fwd), Z(aRevE, a_c03_rev),
  P(a_c04_fwd), Z(aRevE, a_c04_rev), P(a_c05_fwd), Z(aRevE, a_c05_rev),
  P(a_c06_fwd), Z(aRevE, a_c06_rev), P(a_c07_fwd), Z(aRevE, a_c07_rev),
  P(a_c08_fwd), Z(aRevE, a_c08_rev), P(a_c09_fwd), Z(aRevE, a_c09_rev),
  P(a_c10_fwd), Z(aRevE, a_c10_rev), P(a_c11_fwd), Z(aRevE, a_c11_rev),
  P(a_c12_fwd), Z(aRevE, a_c12_rev), P(a_c13_fwd), Z(aRevE, a_c13_rev),
  P(a_c14_fwd), Z(aRevE, a_c14_rev), P(a_c15_fwd), Z(aRevE, a_c15_rev),
  P(a_c16_fwd), Z(aRevE, a_c16_rev), P(a_c17_fwd), Z(aRevE, a_c17_rev),
  P(a_c18_fwd), Z(aRevE, a_c18_rev), P(a_c19_fwd), Z(aRevE, a_c19_rev),
  P(a_c20_fwd), Z(aRevE, a_c20_rev), P(a_c21_fwd), Z(aRevE, a_c21_rev),
  P(a_c22_fwd), Z(aRevE, a_c22_rev), P(a_c24_fwd), Z(aRevE, a_c24_rev),
  P(a_c26_fwd), Z(aRevE, a_c26_rev), P(a_c28_fwd), Z(aRevE, a_c28_rev),
  P(a_c30_fwd), Z(aRevE, a_c30_rev), P(a_c32_fwd), Z(aRevE, a_c32_rev),
  P(a_c35_fwd), Z(aRevE, a_c35_rev), P(a_c37_fwd), Z(aRevE, a_c37_rev),
  P(a_c40_fwd), Z(aRevE, a_c40_rev)
];
const bCurves = [
  P(b_c01_fwd), Z(bRevE, b_c01_rev),
  P(b_c02_fwd), Z(bRevE, b_c02_rev), P(b_c03_fwd), Z(bRevE, b_c03_rev),
  P(b_c04_fwd), Z(bRevE, b_c04_rev), P(b_c05_fwd), Z(bRevE, b_c05_rev),
  P(b_c06_fwd), Z(bRevE, b_c06_rev), P(b_c07_fwd), Z(bRevE, b_c07_rev),
  P(b_c08_fwd), Z(bRevE, b_c08_rev), P(b_c09_fwd), Z(bRevE, b_c09_rev),
  P(b_c10_fwd), Z(bRevE, b_c10_rev), P(b_c11_fwd), Z(bRevE, b_c11_rev),
  P(b_c12_fwd), Z(bRevE, b_c12_rev), P(b_c13_fwd), Z(bRevE, b_c13_rev),
  P(b_c14_fwd), Z(bRevE, b_c14_rev), P(b_c15_fwd), Z(bRevE, b_c15_rev),
  P(b_c17_fwd), Z(bRevE, b_c17_rev), P(b_c20_fwd), Z(bRevE, b_c20_rev),
  P(b_c25_fwd), Z(bRevE, b_c25_rev), P(b_c31_fwd), Z(bRevE, b_c31_rev),
  P(b_c40_fwd), Z(bRevE, b_c40_rev)
];

build(document.getElementById('ca'), {
  name: 'a', curves: aCurves, yMin: -0.0124, yMax: 0.025, yTitle: 'I / A',
  padding: {top: 80, right: 38, left: 0, bottom: 0}, xH: 92, yW: 144,
  xTitlePad: 14, yTitlePad: 34, axisColor: '#000', axisWidth: 2,
  xMinor: aXTicksMinor, yMinor: aYTicksMinor, arrows: aArrows
});
build(document.getElementById('cb'), {
  name: 'b', curves: bCurves, yMin: -0.0075, yMax: 0.020, yTitle: '\u2002\u2002\u2002\u2002I / A',
  padding: {top: 103, right: 126, left: 0, bottom: 0}, xH: 118, yW: 142,
  xTitlePad: 35, yTitlePad: 34, axisColor: '#444', axisWidth: 1.2,
  xMinor: bXTicksMinor, yMinor: bYTicksMinor, arrows: bArrows
});
</script>
</body></html>
